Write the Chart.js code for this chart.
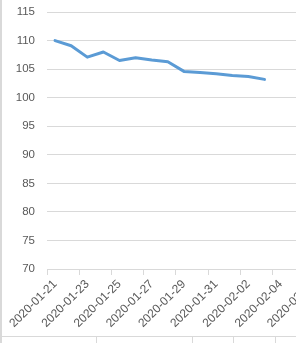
<!DOCTYPE html>
<html>
<head>
<meta charset="utf-8">
<script src="https://cdn.jsdelivr.net/npm/chart.js@4.4.1/dist/chart.umd.min.js"></script>
<style>
  html, body { margin: 0; padding: 0; background: #fff; overflow: hidden; }
  #wrap { position: relative; width: 296px; height: 343px; overflow: hidden; }
  #c { position: absolute; left: 0; top: 0; }
  .ln { position: absolute; background: #d9d9d9; }
</style>
</head>
<body>
<div id="wrap">
  <canvas id="c" width="340" height="336"></canvas>
  <div class="ln" style="left:0;top:0;width:2px;height:343px"></div>
  <div class="ln" style="left:0;top:336px;width:296px;height:1px"></div>
  <div class="ln" style="left:96px;top:336px;width:1px;height:7px"></div>
  <div class="ln" style="left:192px;top:336px;width:1px;height:7px"></div>
  <div class="ln" style="left:233px;top:336px;width:1px;height:7px"></div>
  <div class="ln" style="left:275px;top:336px;width:1px;height:7px"></div>
</div>
<script>
// dates on the axis (daily), values only for the first 14 days
var dates = ["2020-01-21","2020-01-22","2020-01-23","2020-01-24","2020-01-25","2020-01-26",
  "2020-01-27","2020-01-28","2020-01-29","2020-01-30","2020-01-31","2020-02-01",
  "2020-02-02","2020-02-03","2020-02-04","2020-02-05","2020-02-06","2020-02-07"];
var values = [110.0, 109.1, 107.1, 108.0, 106.5, 107.0, 106.6, 106.3, 104.6, 104.4, 104.2, 103.9, 103.7, 103.2];
var yMin = 70, yMax = 115, yStep = 5;

var gridGray = "#d9d9d9";
var textGray = "#595959";

var chart = new Chart(document.getElementById("c"), {
  type: "line",
  data: {
    labels: dates,
    datasets: [{
      data: values,
      borderColor: "#5b9bd5",
      borderWidth: 3,
      pointRadius: 0,
      tension: 0,
      borderJoinStyle: "round",
      borderCapStyle: "round",
      fill: false
    }]
  },
  options: {
    responsive: false,
    devicePixelRatio: 1,
    animation: false,
    layout: { padding: { top: 12, right: 3, bottom: 3.4, left: 0 } },
    plugins: { legend: { display: false }, tooltip: { enabled: false } },
    scales: {
      x: {
        offset: true,
        afterFit: function (s) { s.paddingRight = 0; },
        grid: {
          offset: true,
          drawOnChartArea: false,
          tickLength: 6,
          color: function (ctx) { return ctx.index % 2 === 0 ? gridGray : "rgba(0,0,0,0)"; }
        },
        border: { color: gridGray, width: 1 },
        ticks: {
          autoSkip: false,
          maxRotation: 45,
          minRotation: 45,
          padding: 2,
          color: textGray,
          font: { family: "Liberation Sans", size: 12 },
          callback: function (v, i) { return i % 2 === 0 ? dates[i] : ""; }
        }
      },
      y: {
        min: yMin,
        max: yMax,
        afterFit: function (s) { s.width = 47; s.paddingTop = 0; s.paddingBottom = 0; },
        grid: { color: gridGray, drawTicks: false },
        border: { display: false },
        ticks: {
          stepSize: yStep,
          padding: 12,
          color: textGray,
          font: { family: "Liberation Sans", size: 11.5 }
        }
      }
    }
  }
});
</script>
</body>
</html>
